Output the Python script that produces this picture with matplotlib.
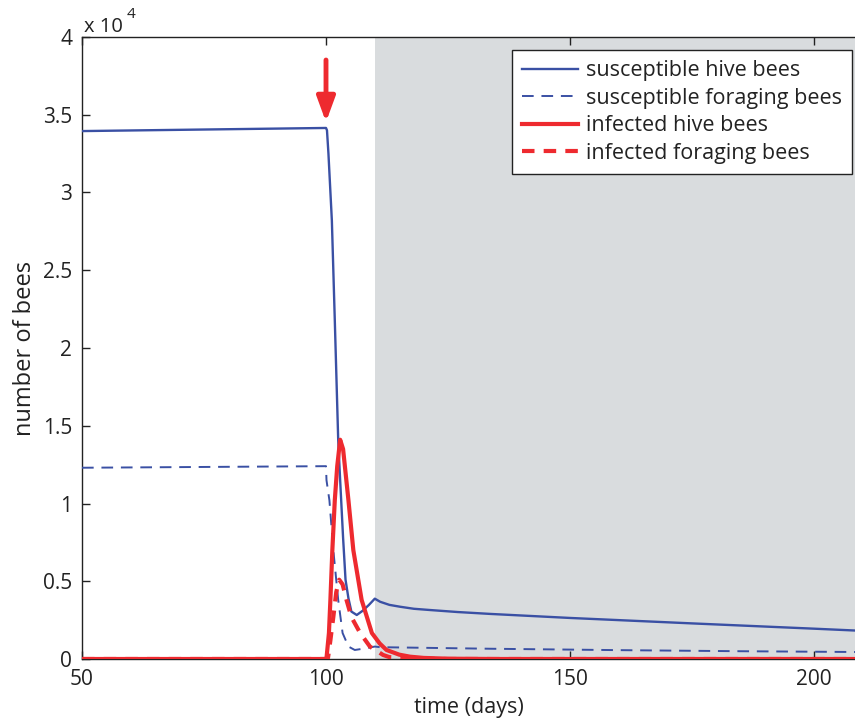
import matplotlib
matplotlib.use("Agg")
import matplotlib.pyplot as plt

plt.rcParams['font.family'] = ['Open Sans', 'DejaVu Sans']

BLUE = '#3a50a4'
RED = '#ee2a2f'
GREY = '#d9dcde'
INK = '#222222'

# susceptible hive bees
t_sh = [50, 100, 100.2, 100.5, 101.2, 101.8, 102.5, 102.9, 103.5, 104.0, 104.6, 105.2,
        106.3, 107.5, 108.8, 110, 111.1, 113, 115.2, 118, 121.3, 127, 133.6, 150, 175, 200, 208.5]
sh = [33950, 34150, 34000, 32500, 28200, 21800, 14100, 11500, 7800, 5100, 3900, 3050,
      2830, 3100, 3480, 3880, 3680, 3480, 3360, 3230, 3150, 3020, 2900, 2640, 2290, 1950, 1830]

# susceptible foraging bees
t_sf = [50, 100, 100.1, 100.7, 101.5, 102.5, 103.4, 104.6, 105.9, 108, 110, 111.1,
        120, 133.6, 160, 185, 208.5]
sf = [12300, 12400, 11500, 10200, 7000, 3800, 1670, 800, 580, 680, 800, 760,
      720, 660, 570, 500, 450]

# infected hive bees
t_ih = [50, 100, 100.1, 100.6, 100.9, 101.3, 101.8, 102.3, 102.9, 103.5, 104.0, 104.6,
        105.6, 107.3, 109.4, 111, 112.4, 115, 117.2, 120, 125, 135, 208.5]
ih = [0, 0, 50, 1670, 3800, 7000, 10200, 12400, 14100, 13500, 12000, 10200,
      7000, 3800, 1670, 1000, 580, 280, 150, 70, 20, 0, 0]

# infected foraging bees
t_if = [50, 100, 100.4, 100.9, 101.5, 102.1, 102.7, 103.4, 104.2, 105.2, 107, 109,
        111.7, 113, 118, 125, 208.5]
if_ = [0, 0, 50, 1200, 2700, 4300, 5100, 4800, 3800, 2700, 1670, 800,
       260, 120, 30, 0, 0]

x_ticks = [50, 100, 150, 200]
y_ticks = [0, 5000, 10000, 15000, 20000, 25000, 30000, 35000, 40000]
y_ticklabels = ['0', '0.5', '1', '1.5', '2', '2.5', '3', '3.5', '4']
labels = ['susceptible hive bees', 'susceptible foraging bees',
          'infected hive bees', 'infected foraging bees']

fig = plt.figure(figsize=(8.55, 7.2), dpi=100)
ax = fig.add_axes([82 / 855, 1 - 659 / 720, 1 - 82 / 855, (659 - 37) / 720])

ax.axvspan(110, 208.5, color=GREY, lw=0, zorder=0)

ax.plot(t_sh, sh, color=BLUE, lw=1.7, label=labels[0], zorder=3)
ax.plot(t_sf, sf, color=BLUE, lw=1.4, ls=(0, (6, 4)), label=labels[1], zorder=3)
ax.plot(t_ih, ih, color=RED, lw=3.0, label=labels[2], zorder=4)
ax.plot(t_if, if_, color=RED, lw=3.0, ls=(0, (3, 2.2)), label=labels[3], zorder=4)

ax.annotate('', xy=(100, 34530), xytext=(100, 38520),
            arrowprops=dict(arrowstyle='-|>,head_width=0.22,head_length=0.6',
                            color=RED, lw=3.5, shrinkA=0, shrinkB=0, mutation_scale=25),
            zorder=5)

ax.set_xlim(50, 208.4)
ax.set_ylim(0, 40000)
ax.set_xticks(x_ticks)
ax.set_yticks(y_ticks)
ax.set_yticklabels(y_ticklabels)
ax.tick_params(direction='in', length=6, width=1, top=True, right=False,
               labelsize=15, colors=INK, pad=7)
ax.spines['right'].set_visible(False)
for s in ax.spines.values():
    s.set_linewidth(1.0)
    s.set_color(INK)

ax.set_xlabel('time (days)', fontsize=15.5, color=INK, labelpad=5)
ax.set_ylabel('number of bees', fontsize=17, color=INK, labelpad=4)

fig.text(84 / 855, 1 - 27 / 720, 'x 10', fontsize=14.5, color=INK, va='center', ha='left')
fig.text(127 / 855, 1 - 14 / 720, '4', fontsize=11, color=INK, va='center', ha='left')

leg = ax.legend(loc='upper right', bbox_to_anchor=((852 - 82) / 773, (659 - 50) / 622),
                borderaxespad=0, fontsize=15.5, frameon=True, fancybox=False,
                edgecolor=INK, framealpha=1, handlelength=2.6,
                handletextpad=0.35, labelspacing=0.3, borderpad=0.48)
leg.get_frame().set_linewidth(1.0)
for txt in leg.get_texts():
    txt.set_color(INK)

fig.savefig('out.png', dpi=100)
